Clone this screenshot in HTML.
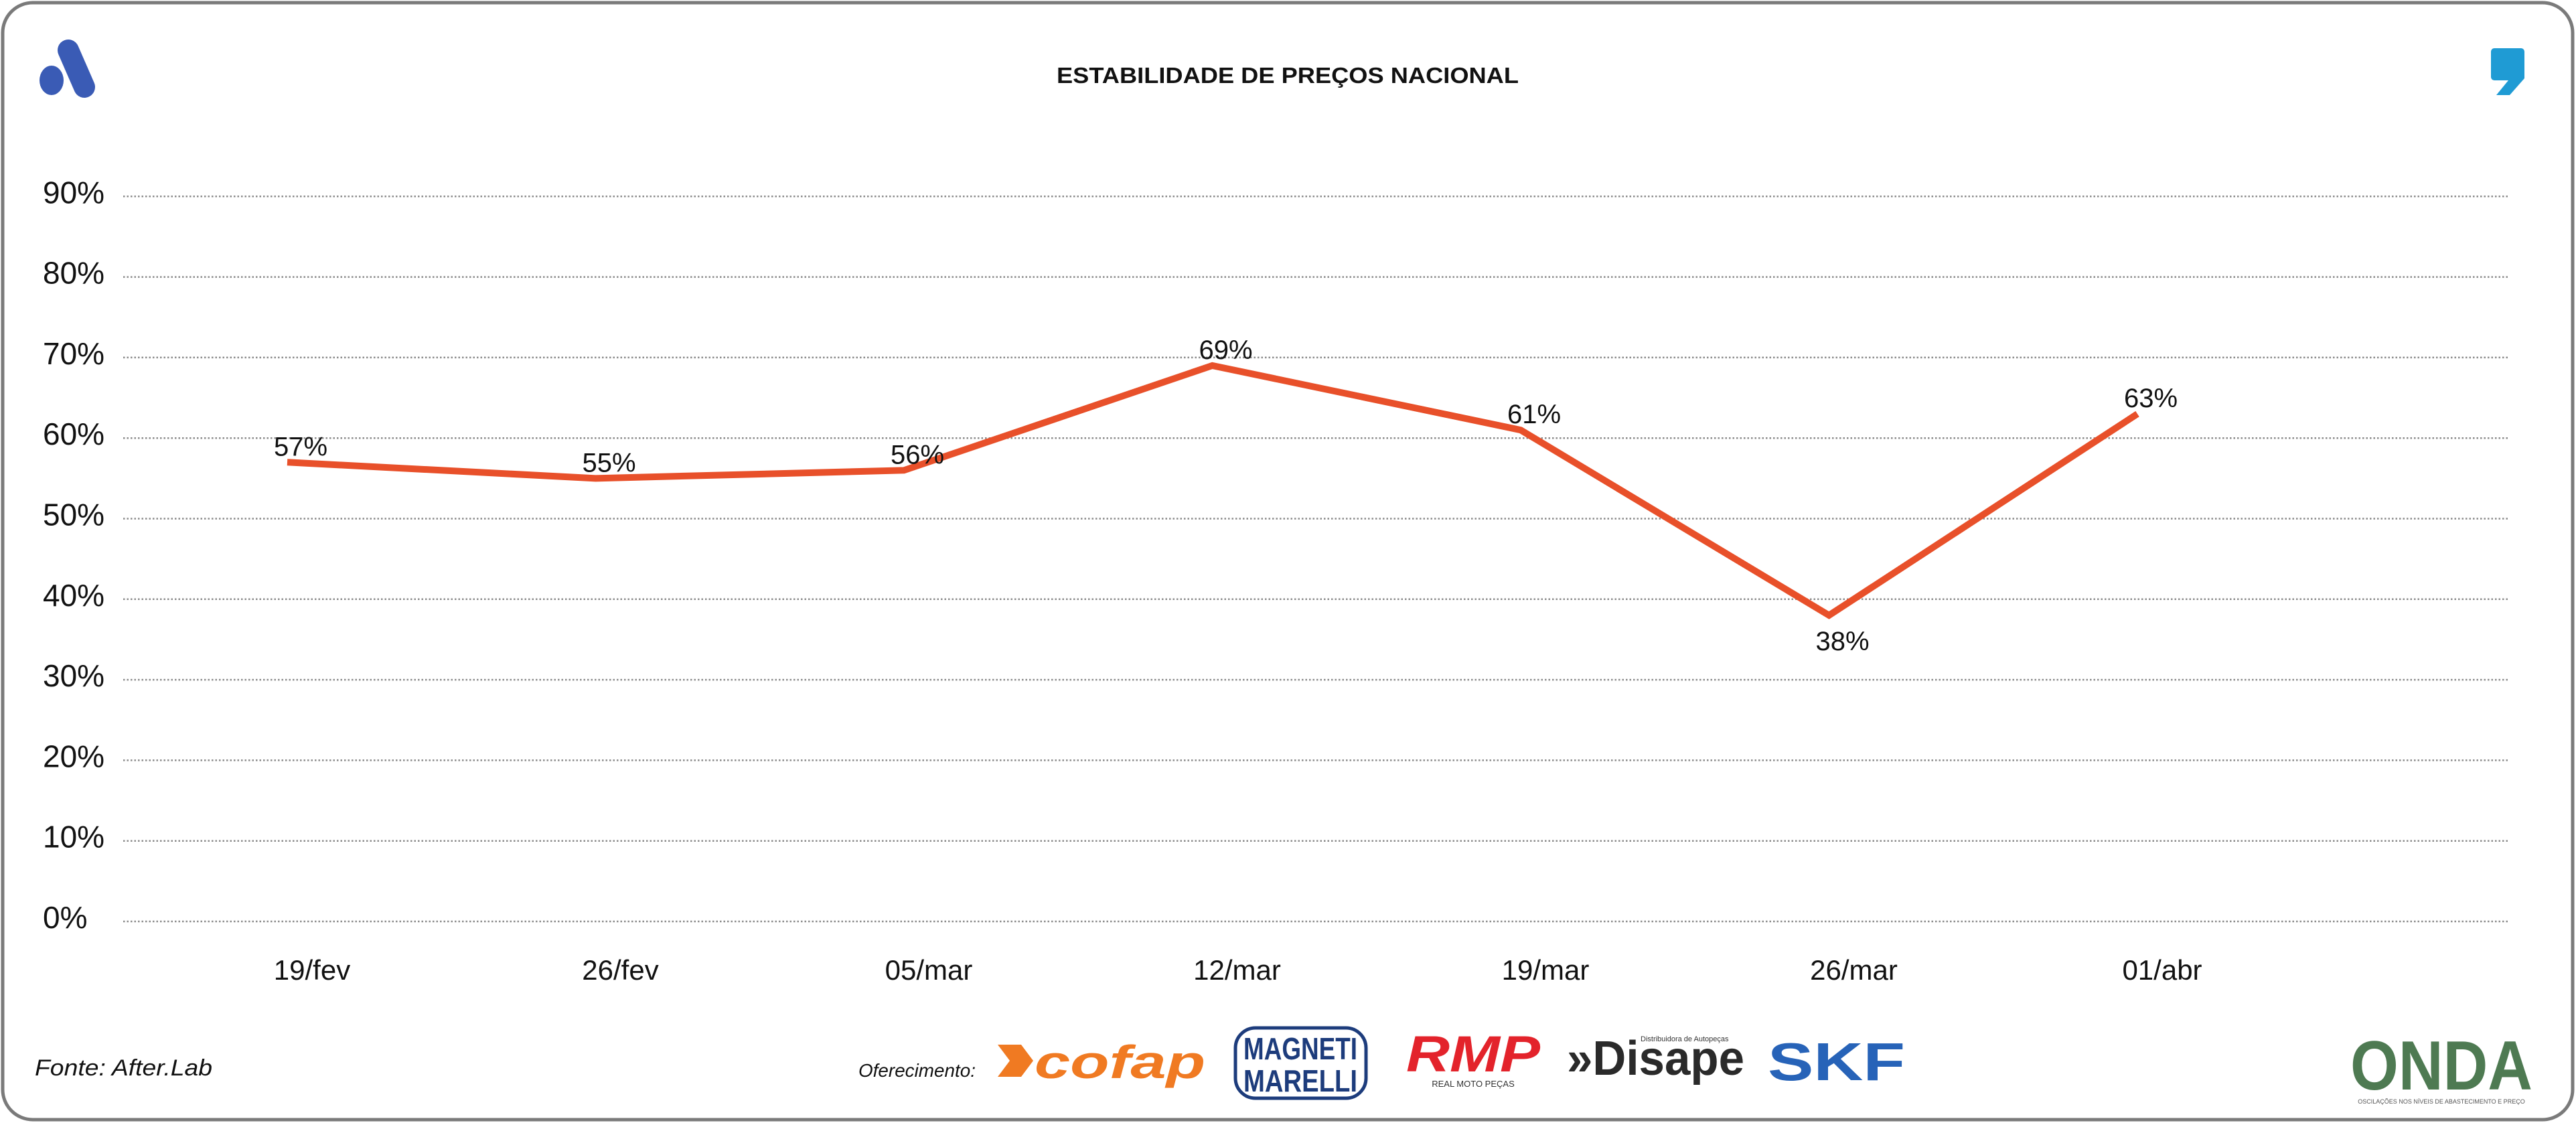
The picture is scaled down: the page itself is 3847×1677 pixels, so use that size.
<!DOCTYPE html>
<html><head><meta charset="utf-8"><style>
html,body{margin:0;padding:0;background:#fff;}
svg{display:block;}
text{font-family:"Liberation Sans",sans-serif;}
</style></head><body>
<svg id="chart" width="3847" height="1677" viewBox="0 0 3847 1677" xmlns="http://www.w3.org/2000/svg">
<rect x="4" y="4" width="3838" height="1668" rx="45" fill="#fff" stroke="#7a7a7a" stroke-width="5"/>
<g>
<line x1="102" y1="75" x2="126" y2="130" stroke="#3a5bb5" stroke-width="32" stroke-linecap="round"/>
<ellipse cx="77" cy="120" rx="18" ry="22" fill="#3a5bb5"/>
</g>
<path d="M3725 72 h40 a5 5 0 0 1 5 5 v40 l-22 25 h-20 l18 -22 h-21 a5 5 0 0 1 -5 -5 v-38 a5 5 0 0 1 5 -5z" fill="#1f9bd4"/>
<text x="1923" y="124" text-anchor="middle" font-size="33" font-weight="bold" fill="#111" textLength="690" lengthAdjust="spacingAndGlyphs">ESTABILIDADE DE PREÇOS NACIONAL</text>
<g id="grid"></g>
<g id="xlabels"></g>
<g id="series"></g>
<text x="52" y="1606" font-size="34" font-style="italic" fill="#111" textLength="265" lengthAdjust="spacingAndGlyphs">Fonte: After.Lab</text>
<text x="1282" y="1608" font-size="28" font-style="italic" fill="#111" textLength="175" lengthAdjust="spacingAndGlyphs">Oferecimento:</text>
<g>
<path d="M1490 1560 h35 l18 24 l-18 24 h-35 l18 -24z" fill="#f07a22"/>
<text x="1545" y="1610" font-size="70" font-weight="bold" font-style="italic" fill="#f07a22" textLength="255" lengthAdjust="spacingAndGlyphs">cofap</text>
</g>
<g>
<rect x="1845" y="1535" width="195" height="105" rx="30" fill="none" stroke="#1d3c7c" stroke-width="5"/>
<text x="1942" y="1582" text-anchor="middle" font-size="46" font-weight="bold" fill="#1d3c7c" textLength="170" lengthAdjust="spacingAndGlyphs">MAGNETI</text>
<text x="1942" y="1630" text-anchor="middle" font-size="46" font-weight="bold" fill="#1d3c7c" textLength="170" lengthAdjust="spacingAndGlyphs">MARELLI</text>
</g>
<g>
<text x="2100" y="1600" font-size="76" font-weight="bold" font-style="italic" fill="#e3232b" textLength="200" lengthAdjust="spacingAndGlyphs">RMP</text>
<text x="2200" y="1623" text-anchor="middle" font-size="13" fill="#333">REAL MOTO PEÇAS</text>
</g>
<g>
<text x="2340" y="1605" font-size="72" font-weight="bold" fill="#2a2a2a" textLength="265" lengthAdjust="spacingAndGlyphs">»Disape</text>
<text x="2450" y="1555" font-size="11" fill="#333">Distribuidora de Autopeças</text>
</g>
<text x="2640" y="1613" font-size="80" font-weight="bold" fill="#2763b8" textLength="205" lengthAdjust="spacingAndGlyphs">SKF</text>
<g>
<text x="3510" y="1627" font-size="104" font-weight="bold" fill="#4e7a52" textLength="272" lengthAdjust="spacingAndGlyphs">ONDA</text>
<text x="3646" y="1648" text-anchor="middle" font-size="9" fill="#555">OSCILAÇÕES NOS NÍVEIS DE ABASTECIMENTO E PREÇO</text>
</g>
</svg>
<script>
const categories = ["19/fev","26/fev","05/mar","12/mar","19/mar","26/mar","01/abr"];
const values = [57,55,56,69,61,38,63];
const yTicks = [0,10,20,30,40,50,60,70,80,90];
const yTickLabels = ["0%","10%","20%","30%","40%","50%","60%","70%","80%","90%"];

const NS = "http://www.w3.org/2000/svg";
const y0 = 1376, yPer10 = 120.3;
function yScale(v){ return y0 - v/10*yPer10; }
const xStart = 429, xEnd = 3192;
function xScale(i){ return xStart + i*(xEnd-xStart)/(categories.length-1); }
function mk(tag, attrs){ const e=document.createElementNS(NS,tag); for(const k in attrs) e.setAttribute(k,attrs[k]); return e; }

const grid = document.getElementById('grid');
yTicks.forEach((t,i)=>{
  const y = yScale(t);
  const l = mk('line',{x1:184,x2:3747,y1:y,y2:y,stroke:'#8a8a8a','stroke-width':2.5,'stroke-dasharray':'2.5 3'});
  
  
  grid.appendChild(l);
  const tx = mk('text',{x:64,y:y+10,'font-size':46,fill:'#111'});
  tx.textContent = yTickLabels[i];
  
  
  grid.appendChild(tx);
});

const xl = document.getElementById('xlabels');
categories.forEach((c,i)=>{
  const tx = mk('text',{x:xScale(i)+37,y:1463,'font-size':42,fill:'#111','text-anchor':'middle'});
  tx.textContent = c;
  
  
  xl.appendChild(tx);
});

const s = document.getElementById('series');
const pts = values.map((v,i)=>xScale(i)+','+yScale(v)).join(' ');
const pl = mk('polyline',{points:pts,fill:'none',stroke:'#e8502a','stroke-width':10,'stroke-linejoin':'miter'});


s.appendChild(pl);
const minV = Math.min(...values);
values.forEach((v,i)=>{
  const below = v===minV;
  const tx = mk('text',{x:xScale(i)+20,y:below?yScale(v)+52:yScale(v)-10,'font-size':40,fill:'#111','text-anchor':'middle'});
  tx.textContent = v+'%';
  
  
  s.appendChild(tx);
});
</script>
</body></html>
